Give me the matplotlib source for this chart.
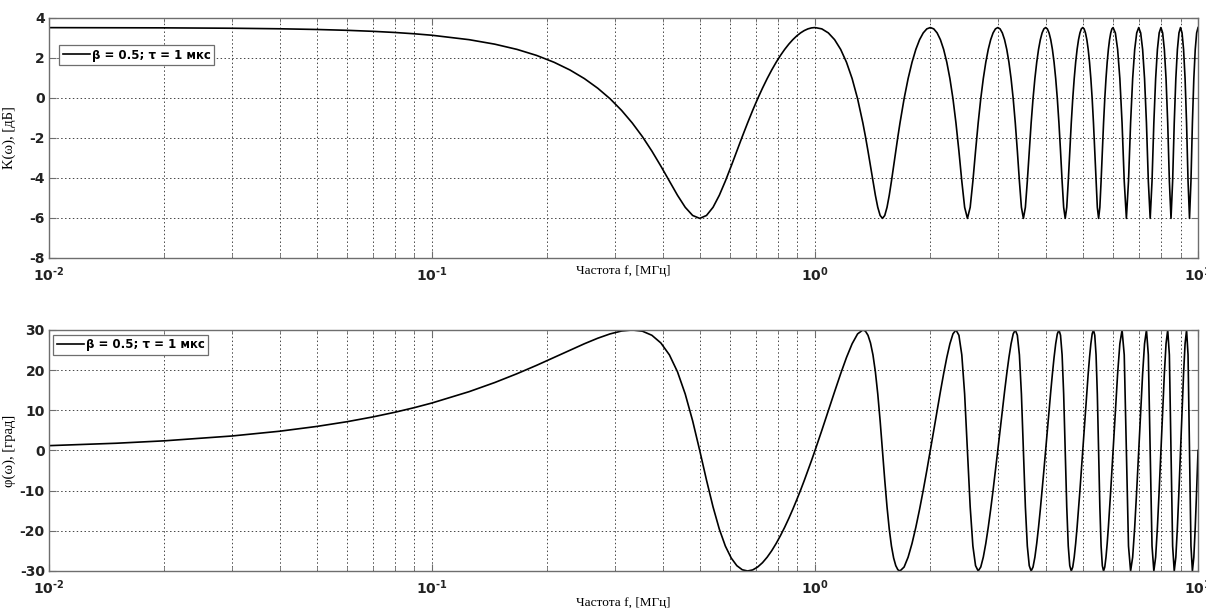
import math
import matplotlib
matplotlib.use('Agg')
import matplotlib.pyplot as plt
from matplotlib.ticker import LogLocator, MultipleLocator, NullFormatter, FuncFormatter

# frequency samples, MHz
freq_mhz = [
    0.01, 0.015, 0.02, 0.03, 0.04, 0.05, 0.06, 0.07, 0.08, 0.09, 0.1,
    0.125, 0.1458, 0.1667, 0.1875, 0.2083, 0.2292, 0.25, 0.2708, 0.2917, 0.3125, 0.3333, 0.3542, 0.375,
    0.3958, 0.4167, 0.4375, 0.4583, 0.4792, 0.5,
    0.5208, 0.5417, 0.5625, 0.5833, 0.6042, 0.625, 0.6458, 0.6667, 0.6875, 0.7083, 0.7292, 0.75,
    0.7708, 0.7917, 0.8125, 0.8333, 0.8542, 0.875, 0.8958, 0.9167, 0.9375, 0.9583, 0.9792, 1.0,
    1.0417, 1.0833, 1.125, 1.1667, 1.2083, 1.25, 1.2917, 1.3333,
    1.3542, 1.375, 1.3958, 1.4167, 1.4375, 1.4583, 1.4792, 1.5, 1.5208, 1.5417, 1.5625, 1.5833, 1.6042, 1.625, 1.6458,
    1.6667, 1.7083, 1.75, 1.7917, 1.8333, 1.875, 1.9167, 1.9583, 2.0,
    2.0417, 2.0833, 2.125, 2.1667, 2.2083, 2.25, 2.2917, 2.3333, 2.375, 2.4167, 2.4583, 2.5,
    2.5417, 2.5833, 2.625, 2.6667, 2.7083, 2.75, 2.7917, 2.8333, 2.875, 2.9167, 2.9583, 3.0,
    3.0417, 3.0833, 3.125, 3.1667, 3.2083, 3.25, 3.2917, 3.3333, 3.375, 3.4167, 3.4583, 3.5,
    3.5417, 3.5833, 3.625, 3.6667, 3.7083, 3.75, 3.7917, 3.8333, 3.875, 3.9167, 3.9583, 4.0,
    4.0417, 4.0833, 4.125, 4.1667, 4.2083, 4.25, 4.2917, 4.3333, 4.375, 4.4167, 4.4583, 4.5,
    4.5417, 4.5833, 4.625, 4.6667, 4.7083, 4.75, 4.7917, 4.8333, 4.875, 4.9167, 4.9583, 5.0,
    5.0417, 5.0833, 5.125, 5.1667, 5.2083, 5.25, 5.2917, 5.3333, 5.375, 5.4167, 5.4583, 5.5,
    5.5417, 5.5833, 5.625, 5.6667, 5.7083, 5.75, 5.7917, 5.8333, 5.875, 5.9167, 5.9583, 6.0,
    6.0833, 6.1667, 6.25, 6.3333, 6.4167, 6.5, 6.5833, 6.6667, 6.75, 6.8333, 6.9167, 7.0,
    7.0833, 7.1667, 7.25, 7.3333, 7.4167, 7.5, 7.5833, 7.6667, 7.75, 7.8333, 7.9167, 8.0,
    8.0833, 8.1667, 8.25, 8.3333, 8.4167, 8.5, 8.5833, 8.6667, 8.75, 8.8333, 8.9167, 9.0,
    9.0833, 9.1667, 9.25, 9.3333, 9.4167, 9.5, 9.5833, 9.6667, 9.75, 9.8333, 9.9167, 10.0,
]

# K(w), dB
k_db = [
    3.518, 3.513, 3.507, 3.488, 3.461, 3.426, 3.384, 3.334, 3.276, 3.210, 3.137,
    2.916, 2.692, 2.430, 2.129, 1.786, 1.400, 0.969, 0.490, -0.038, -0.618, -1.249, -1.930, -2.653,
    -3.404, -4.157, -4.866, -5.466, -5.874, -6.021,
    -5.874, -5.466, -4.866, -4.157, -3.404, -2.653, -1.930, -1.249, -0.618, -0.038, 0.490, 0.969,
    1.400, 1.786, 2.129, 2.430, 2.692, 2.916, 3.103, 3.255, 3.372, 3.456, 3.505, 3.522,
    3.456, 3.255, 2.916, 2.430, 1.786, 0.969, -0.038, -1.249,
    -1.930, -2.653, -3.404, -4.157, -4.866, -5.466, -5.874, -6.021, -5.874, -5.466, -4.866, -4.157, -3.404, -2.653, -1.930,
    -1.249, -0.038, 0.969, 1.786, 2.430, 2.916, 3.255, 3.456, 3.522,
    3.456, 3.255, 2.916, 2.430, 1.786, 0.969, -0.038, -1.249, -2.653, -4.157, -5.466, -6.021,
    -5.466, -4.157, -2.653, -1.249, -0.038, 0.969, 1.786, 2.430, 2.916, 3.255, 3.456, 3.522,
    3.456, 3.255, 2.916, 2.430, 1.786, 0.969, -0.038, -1.249, -2.653, -4.157, -5.466, -6.021,
    -5.466, -4.157, -2.653, -1.249, -0.038, 0.969, 1.786, 2.430, 2.916, 3.255, 3.456, 3.522,
    3.456, 3.255, 2.916, 2.430, 1.786, 0.969, -0.038, -1.249, -2.653, -4.157, -5.466, -6.021,
    -5.466, -4.157, -2.653, -1.249, -0.038, 0.969, 1.786, 2.430, 2.916, 3.255, 3.456, 3.522,
    3.456, 3.255, 2.916, 2.430, 1.786, 0.969, -0.038, -1.249, -2.653, -4.157, -5.466, -6.021,
    -5.466, -4.157, -2.653, -1.249, -0.038, 0.969, 1.786, 2.430, 2.916, 3.255, 3.456, 3.522,
    3.255, 2.430, 0.969, -1.249, -4.157, -6.021, -4.157, -1.249, 0.969, 2.430, 3.255, 3.522,
    3.255, 2.430, 0.969, -1.249, -4.157, -6.021, -4.157, -1.249, 0.969, 2.430, 3.255, 3.522,
    3.255, 2.430, 0.969, -1.249, -4.157, -6.021, -4.157, -1.249, 0.969, 2.430, 3.255, 3.522,
    3.255, 2.430, 0.969, -1.249, -4.157, -6.021, -4.157, -1.249, 0.969, 2.430, 3.255, 3.522,
]

# phi(w), degrees
phi_deg = [
    1.20, 1.80, 2.40, 3.60, 4.79, 5.98, 7.16, 8.34, 9.51, 10.67, 11.82,
    14.64, 16.91, 19.11, 21.19, 23.15, 24.96, 26.57, 27.94, 29.02, 29.74, 30.00, 29.70, 28.68,
    26.77, 23.80, 19.57, 14.05, 7.37, 0.00,
    -7.37, -14.05, -19.57, -23.80, -26.77, -28.68, -29.70, -30.00, -29.74, -29.02, -27.94, -26.57,
    -24.96, -23.15, -21.19, -19.11, -16.91, -14.64, -12.29, -9.90, -7.46, -4.99, -2.50, 0.00,
    4.99, 9.90, 14.64, 19.11, 23.15, 26.57, 29.02, 30.00,
    29.70, 28.68, 26.77, 23.80, 19.57, 14.05, 7.37, 0.00, -7.37, -14.05, -19.57, -23.80, -26.77, -28.68, -29.70,
    -30.00, -29.02, -26.57, -23.15, -19.11, -14.64, -9.90, -4.99, 0.00,
    4.99, 9.90, 14.64, 19.11, 23.15, 26.57, 29.02, 30.00, 28.68, 23.80, 14.05, 0.00,
    -14.05, -23.80, -28.68, -30.00, -29.02, -26.57, -23.15, -19.11, -14.64, -9.90, -4.99, 0.00,
    4.99, 9.90, 14.64, 19.11, 23.15, 26.57, 29.02, 30.00, 28.68, 23.80, 14.05, 0.00,
    -14.05, -23.80, -28.68, -30.00, -29.02, -26.57, -23.15, -19.11, -14.64, -9.90, -4.99, 0.00,
    4.99, 9.90, 14.64, 19.11, 23.15, 26.57, 29.02, 30.00, 28.68, 23.80, 14.05, 0.00,
    -14.05, -23.80, -28.68, -30.00, -29.02, -26.57, -23.15, -19.11, -14.64, -9.90, -4.99, 0.00,
    4.99, 9.90, 14.64, 19.11, 23.15, 26.57, 29.02, 30.00, 28.68, 23.80, 14.05, 0.00,
    -14.05, -23.80, -28.68, -30.00, -29.02, -26.57, -23.15, -19.11, -14.64, -9.90, -4.99, 0.00,
    9.90, 19.11, 26.57, 30.00, 23.80, 0.00, -23.80, -30.00, -26.57, -19.11, -9.90, 0.00,
    9.90, 19.11, 26.57, 30.00, 23.80, 0.00, -23.80, -30.00, -26.57, -19.11, -9.90, 0.00,
    9.90, 19.11, 26.57, 30.00, 23.80, 0.00, -23.80, -30.00, -26.57, -19.11, -9.90, 0.00,
    9.90, 19.11, 26.57, 30.00, 23.80, 0.00, -23.80, -30.00, -26.57, -19.11, -9.90, 0.00,
]

legend_label = 'β = 0.5; τ = 1 мкс'
x_label = 'Частота f, [МГц]'
k_label = 'K(ω), [дБ]'
phi_label = 'φ(ω), [град]'

plt.rcParams['font.family'] = 'DejaVu Sans'
plt.rcParams['font.weight'] = 'bold'
plt.rcParams['mathtext.fontset'] = 'dejavusans'
plt.rcParams['axes.unicode_minus'] = False

fig = plt.figure(figsize=(12.06, 6.08), dpi=100)
ax1 = fig.add_axes([0.0406, 0.5757, 0.9528, 0.3947])
ax2 = fig.add_axes([0.0406, 0.0609, 0.9528, 0.3964])

frame_col = '#6e6e6e'
pow_fmt = FuncFormatter(lambda v, p: r'$\mathbf{10^{\text{-}%d}}$' % abs(round(math.log10(v)))
                        if v < 1 else r'$\mathbf{10^{%d}}$' % round(math.log10(v)))


def style_axes(ax, ylims, ystep, ylabel, xlabel_y):
    ax.set_xscale('log')
    ax.set_xlim(0.01, 10)
    ax.set_ylim(*ylims)
    ax.yaxis.set_major_locator(MultipleLocator(ystep))
    ax.xaxis.set_major_locator(LogLocator(base=10, numticks=10))
    ax.xaxis.set_major_formatter(pow_fmt)
    ax.xaxis.set_minor_locator(LogLocator(base=10, subs=range(2, 10), numticks=50))
    ax.xaxis.set_minor_formatter(NullFormatter())
    ax.grid(True, which='major', axis='both', linestyle=(0, (1.5, 2.5)), color='#444444', linewidth=0.7)
    ax.grid(True, which='minor', axis='x', linestyle=(0, (1.5, 2.5)), color='#444444', linewidth=0.7)
    ax.tick_params(which='both', direction='in', top=True, right=True, colors=frame_col,
                   labelcolor='#222222', labelsize=10)
    ax.tick_params(axis='y', pad=3)
    ax.tick_params(axis='x', pad=5)
    ax.tick_params(which='major', length=5)
    ax.tick_params(which='minor', length=3)
    for sp in ax.spines.values():
        sp.set_color(frame_col)
        sp.set_linewidth(1.0)
    ax.set_xlabel(x_label, family='Liberation Serif', fontsize=9.5, fontweight='normal')
    ax.xaxis.set_label_coords(0.5, xlabel_y)
    ax.set_ylabel(ylabel, family='Liberation Serif', fontsize=10.5, fontweight='normal')
    ax.yaxis.set_label_coords(-0.029, 0.5)


ax1.plot(freq_mhz, k_db, color='black', linewidth=1.2, label=legend_label)
style_axes(ax1, (-8, 4), 2, k_label, -0.03)

ax2.plot(freq_mhz, phi_deg, color='black', linewidth=1.2, label=legend_label)
style_axes(ax2, (-30, 30), 10, phi_label, -0.108)

for ax, anchor in ((ax1, (0.0087, 0.8875)), (ax2, (0.0035, 0.98))):
    leg = ax.legend(loc='upper left', bbox_to_anchor=anchor,
                    prop={'weight': 'bold', 'size': 8.5}, fancybox=False, framealpha=1,
                    edgecolor=frame_col, handlelength=2.3, handletextpad=0.2,
                    borderpad=0.3, borderaxespad=0)
    leg.get_frame().set_linewidth(0.9)

fig.savefig('out.png', dpi=100, facecolor='white')
